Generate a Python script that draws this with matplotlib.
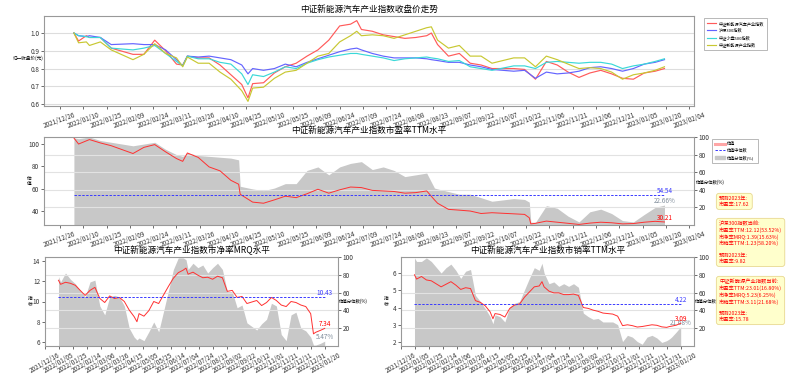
import matplotlib
matplotlib.use('Agg')
import matplotlib.pyplot as plt
import matplotlib.dates as mdates
import matplotlib.ticker as mticker
import pandas as pd

plt.rcParams['font.family'] = ['Noto Sans CJK SC', 'DejaVu Sans']
plt.rcParams['axes.unicode_minus'] = False

# ---------------- data ----------------
price_dates = ['2022-01-04', '2022-01-07', '2022-01-12', '2022-01-14', '2022-01-21', '2022-01-28',
               '2022-02-11', '2022-02-18', '2022-02-25', '2022-03-04', '2022-03-11', '2022-03-15',
               '2022-03-18', '2022-03-25', '2022-04-01', '2022-04-08', '2022-04-15', '2022-04-22',
               '2022-04-26', '2022-04-29', '2022-05-06', '2022-05-13', '2022-05-20', '2022-05-27',
               '2022-06-03', '2022-06-10', '2022-06-17', '2022-06-24', '2022-07-01', '2022-07-05',
               '2022-07-08', '2022-07-15', '2022-07-22', '2022-07-29', '2022-08-05', '2022-08-12',
               '2022-08-19', '2022-08-22', '2022-08-26', '2022-09-02', '2022-09-09', '2022-09-16',
               '2022-09-23', '2022-09-30', '2022-10-14', '2022-10-21', '2022-10-28', '2022-11-04',
               '2022-11-11', '2022-11-18', '2022-11-25', '2022-12-02', '2022-12-09', '2022-12-16',
               '2022-12-23', '2022-12-30', '2023-01-06', '2023-01-13', '2023-01-19']
nev_index = [1.00, 0.955, 0.985, 0.975, 0.975, 0.915, 0.88, 0.88, 0.96, 0.90, 0.825, 0.82,
             0.87, 0.86, 0.86, 0.82, 0.765, 0.71, 0.635, 0.715, 0.72, 0.775, 0.81, 0.83,
             0.87, 0.905, 0.96, 1.04, 1.05, 1.07, 1.02, 1.01, 0.99, 0.98, 0.97, 0.975,
             0.985, 1.00, 0.935, 0.87, 0.885, 0.83, 0.82, 0.80, 0.80, 0.795, 0.74, 0.84,
             0.82, 0.78, 0.75, 0.775, 0.79, 0.77, 0.745, 0.74, 0.775, 0.785, 0.80]
hs300_index = [1.00, 0.985, 0.98, 0.985, 0.975, 0.935, 0.94, 0.935, 0.935, 0.905, 0.85, 0.815,
               0.87, 0.865, 0.87, 0.86, 0.85, 0.82, 0.77, 0.80, 0.79, 0.80, 0.825, 0.81,
               0.835, 0.855, 0.875, 0.895, 0.91, 0.915, 0.905, 0.885, 0.87, 0.86, 0.86, 0.86,
               0.855, 0.85, 0.845, 0.835, 0.835, 0.82, 0.81, 0.795, 0.785, 0.79, 0.745, 0.78,
               0.77, 0.775, 0.785, 0.805, 0.81, 0.80, 0.785, 0.80, 0.825, 0.835, 0.85]
csi500_index = [1.00, 0.985, 0.98, 0.975, 0.975, 0.915, 0.905, 0.915, 0.93, 0.885, 0.84, 0.815,
                0.87, 0.855, 0.855, 0.835, 0.825, 0.77, 0.71, 0.765, 0.755, 0.78, 0.81, 0.80,
                0.83, 0.85, 0.865, 0.875, 0.885, 0.885, 0.88, 0.87, 0.86, 0.845, 0.855, 0.86,
                0.865, 0.86, 0.855, 0.84, 0.845, 0.81, 0.80, 0.79, 0.815, 0.815, 0.80, 0.835,
                0.84, 0.835, 0.83, 0.835, 0.835, 0.825, 0.80, 0.815, 0.825, 0.84, 0.855]
ne_index = [1.00, 0.945, 0.95, 0.93, 0.95, 0.905, 0.85, 0.88, 0.94, 0.885, 0.86, 0.81,
            0.865, 0.83, 0.83, 0.78, 0.74, 0.675, 0.615, 0.69, 0.695, 0.745, 0.78, 0.79,
            0.83, 0.87, 0.885, 0.95, 0.985, 1.01, 0.985, 0.99, 0.985, 0.97, 0.99, 1.01,
            1.03, 1.035, 0.96, 0.915, 0.93, 0.87, 0.87, 0.83, 0.86, 0.86, 0.81, 0.87,
            0.85, 0.825, 0.80, 0.805, 0.80, 0.78, 0.74, 0.765, 0.775, 0.79, 0.81]
price_labels = ['中证新能源汽车产业指数', '沪深300指数', '中证小盘500指数', '中证新能源产业指数']

pe_dates = ['2022-01-04', '2022-01-07', '2022-01-14', '2022-01-21', '2022-01-28', '2022-02-11',
            '2022-02-18', '2022-02-25', '2022-03-04', '2022-03-11', '2022-03-15', '2022-03-18',
            '2022-03-25', '2022-04-01', '2022-04-08', '2022-04-15', '2022-04-20', '2022-04-21',
            '2022-04-29', '2022-05-06', '2022-05-13', '2022-05-20', '2022-05-27', '2022-06-03',
            '2022-06-10', '2022-06-17', '2022-06-24', '2022-07-01', '2022-07-08', '2022-07-15',
            '2022-07-22', '2022-07-29', '2022-08-05', '2022-08-12', '2022-08-19', '2022-08-24',
            '2022-08-26', '2022-09-02', '2022-09-09', '2022-09-16', '2022-09-23', '2022-09-30',
            '2022-10-14', '2022-10-21', '2022-10-24', '2022-10-25', '2022-10-28', '2022-11-04',
            '2022-11-11', '2022-11-18', '2022-11-25', '2022-12-02', '2022-12-09', '2022-12-16',
            '2022-12-23', '2022-12-30', '2023-01-06', '2023-01-13', '2023-01-19']
pe_values = [105.4, 100, 104, 101, 98.5, 91.5, 97, 99.5, 93, 87, 84.5, 92,
             88, 79.5, 76, 67.5, 64, 55, 48, 47, 50, 53.3, 52, 55.5,
             59.5, 56, 59, 61.5, 61, 58.5, 58, 57.5, 56, 56.5, 58, 50,
             47, 41.5, 40.8, 40, 37.8, 38.5, 37.5, 37, 34, 28.5, 29, 31,
             30, 29, 28, 29.2, 30, 29.5, 28.5, 28.8, 30, 30.8, 30.21]
pe_pct = [99, 98, 100, 96, 94, 90, 92, 94, 86, 80, 78, 82,
          79, 78, 77, 76, 74, 44, 41, 39, 42, 47, 47, 62,
          66, 57, 66, 70, 72, 63, 66, 62, 55, 57, 59, 42,
          41, 38, 35, 35, 31, 27, 30, 29, 26, 3.3, 3, 22,
          19, 10, 3.5, 15, 18, 13, 5, 3.5, 12, 20, 22.66]
pe_median = 54.54

val_dates = ['2022-01-04', '2022-01-07', '2022-01-14', '2022-01-21', '2022-01-28', '2022-02-11',
             '2022-02-18', '2022-02-25', '2022-03-04', '2022-03-11', '2022-03-18', '2022-03-25',
             '2022-04-01', '2022-04-08', '2022-04-15', '2022-04-22', '2022-04-26', '2022-04-29',
             '2022-05-06', '2022-05-13', '2022-05-20', '2022-05-27', '2022-06-03', '2022-06-10',
             '2022-06-17', '2022-06-24', '2022-07-01', '2022-07-05', '2022-07-08', '2022-07-15',
             '2022-07-22', '2022-07-29', '2022-08-05', '2022-08-12', '2022-08-19', '2022-08-26',
             '2022-09-02', '2022-09-09', '2022-09-16', '2022-09-23', '2022-09-30', '2022-10-14',
             '2022-10-21', '2022-10-28', '2022-11-04', '2022-11-11', '2022-11-18', '2022-11-25',
             '2022-12-02', '2022-12-09', '2022-12-16', '2022-12-23', '2022-12-30', '2023-01-03',
             '2023-01-06', '2023-01-13', '2023-01-19']
pb_values = [12.1, 11.7, 11.9, 11.8, 11.6, 10.6, 11.1, 11.4, 10.3, 9.9, 10.55, 10.3,
             10.4, 10.0, 9.15, 8.5, 8.0, 8.8, 8.55, 9.1, 10.0, 9.8, 10.65, 11.5,
             12.3, 12.85, 13.1, 13.3, 12.7, 12.9, 12.6, 12.35, 12.4, 12.2, 12.5, 12.35,
             11.0, 11.1, 10.4, 10.5, 9.8, 10.1, 9.6, 9.9, 10.4, 10.1, 9.65, 9.5,
             10.0, 9.9, 9.65, 9.5, 8.8, 6.8, 6.95, 7.15, 7.34]
pb_pct = [78, 72, 82, 75, 70, 55, 72, 74, 45, 35, 55, 57,
          55, 45, 20, 10, 6.8, 9, 6, 16, 27, 16, 39, 62,
          86, 99, 99, 97, 86, 93, 88, 91, 82, 88, 93, 86,
          61, 61, 43, 46, 26, 18, 25, 30, 48, 45, 13, 6,
          35, 38, 20, 17, 10, 1, 1, 3, 5.47]
pb_median = 10.43
ps_values = [5.9, 5.65, 5.8, 5.6, 5.55, 5.2, 5.35, 5.5, 5.3, 5.05, 5.15, 5.1,
             4.4, 4.3, 4.1, 3.75, 3.35, 3.65, 3.6, 3.45, 3.95, 4.15, 4.2, 4.6,
             4.9, 5.2, 5.25, 5.5, 5.2, 4.95, 4.85, 4.85, 4.75, 4.75, 4.78, 4.7,
             4.0, 3.95, 3.85, 3.78, 3.68, 3.62, 3.5, 2.95, 3.0, 2.95, 2.87, 2.9,
             2.95, 3.0, 2.97, 2.88, 2.85, 2.9, 2.92, 2.98, 3.09]
ps_pct = [99, 95, 95, 99, 95, 82, 88, 92, 85, 76, 84, 86,
          57, 50, 42, 33, 25, 35, 33, 27, 44, 48, 50, 63,
          76, 88, 85, 93, 82, 70, 72, 67, 70, 67, 70, 66,
          37, 33, 30, 31, 27, 27, 24, 5, 12, 10, 5, 2,
          10, 12, 9, 4, 6, 8, 10, 16, 21.68]
ps_median = 4.22

box1_text = '预测2023年:\n市盈率:17.62'
box2_text = ('沪深300指数当前:\n市盈率TTM:12.12(53.52%)\n市净率MRQ:1.39(15.63%)\n'
             '市销率TTM:1.23(58.20%)\n\n预测2023年:\n市盈率:9.82')
box3_text = ('中证新能源产业指数当前:\n市盈率TTM:23.01(16.80%)\n市净率MRQ:5.23(6.25%)\n'
             '市销率TTM:3.11(21.68%)\n\n预测2023年:\n市盈率:15.78')

# ---------------- figure ----------------
W, H = 786, 376
fig = plt.figure(figsize=(W / 100, H / 100), dpi=100)


def rect(l, r, t, b):
    return [l / W, 1 - b / H, (r - l) / W, (b - t) / H]


SPINE = '#999999'
TICKC = '#333333'
FS = 4.6
MEDIAN_C = '#3a3aff'
xlim = (pd.Timestamp('2021-12-15 18:00'), pd.Timestamp('2023-02-07'))


def style(ax, ticks, rot):
    for s in ax.spines.values():
        s.set_color(SPINE)
        s.set_linewidth(0.8)
    ax.tick_params(labelsize=FS, length=2, width=0.5, colors=TICKC, pad=1.5)
    ax.set_xticks(ticks)
    ax.xaxis.set_major_formatter(mdates.DateFormatter('%Y/%m/%d'))
    for lab in ax.get_xticklabels():
        lab.set_rotation(rot)
        lab.set_ha('center')
    ax.set_xlim(*xlim)


ticks15 = pd.date_range('2021-12-26', '2023-02-04', freq='15D')
ticks20 = pd.date_range('2021-12-16', '2023-01-20', freq='20D')

# ---- top: price ----
pdates = pd.to_datetime(price_dates)
ax1 = fig.add_axes(rect(44, 694, 16, 106))
cols = ['#ff5a5a', '#6464ff', '#3ad8d8', '#c8c832']
for series, lab, c in zip([nev_index, hs300_index, csi500_index, ne_index], price_labels, cols):
    ax1.plot(pdates, series, color=c, lw=0.85, label=lab)
ax1.set_ylim(0.589, 1.096)
ax1.set_yticks([0.6, 0.7, 0.8, 0.9, 1.0])
ax1.yaxis.set_major_formatter(mticker.FormatStrFormatter('%.1f'))
ax1.grid(axis='y', color='#dddddd', lw=0.8)
ax1.set_axisbelow(True)
style(ax1, ticks15, 20)
ax1.set_title('中证新能源汽车产业指数收盘价走势', fontsize=6.2, pad=3)
fig.text(13 / W, 1 - 58 / H, '归一收盘价(元)', fontsize=3.3, va='center', ha='left')
leg = ax1.legend(loc='upper left', bbox_to_anchor=(1.012, 1.0), fontsize=3.0, frameon=True,
                 handlelength=2.3, borderpad=0.7, labelspacing=0.6, handletextpad=0.6,
                 fancybox=False)
leg.get_frame().set_edgecolor('#999999')
leg.get_frame().set_linewidth(0.6)

# ---- valuation charts ----


def val_chart(l, r, t, b, dates, values, pct, median, title, ylab, ylim, yticks, ticks, rot,
              pct_text, lab_y, legend=False):
    d = pd.to_datetime(dates)
    ax = fig.add_axes(rect(l, r, t, b))
    ax2 = ax.twinx()
    ax2.fill_between(d, 0, pct, color='#c8c8c8', lw=0)
    ax2.set_ylim(0, 100)
    ax2.set_yticks([20, 40, 60, 80, 100])
    ax2.grid(axis='y', color='#e2e2e2', lw=0.8)
    ax.set_zorder(ax2.get_zorder() + 1)
    ax.patch.set_visible(False)
    ax.plot(d, values, color='#ff3030', lw=0.7)
    ln2, = ax.plot([d[0], d[-1]], [median, median], color=MEDIAN_C, lw=0.7, ls=(0, (2.5, 1.5)))
    ax.set_ylim(*ylim)
    ax.set_yticks(yticks)
    style(ax, ticks, rot)
    for s in ax2.spines.values():
        s.set_visible(False)
    ax2.tick_params(labelsize=FS, length=2, width=0.5, colors=TICKC, pad=1.5)
    ax.set_title(title, fontsize=6.2, pad=3)
    ax.text(d[-1], median, f'{median:.2f}', color=MEDIAN_C, fontsize=4.6, ha='center',
            va='bottom')
    ax.text(d[-1], values[-1], f'{values[-1]:.2f}', color='red', fontsize=4.6, ha='center',
            va='bottom')
    ax2.text(d[-1], pct[-1], pct_text, color='#7f8c9a', fontsize=4.6, ha='center', va='bottom')
    ax.text(-15 / (r - l), 0.5, ylab, transform=ax.transAxes, fontsize=3.4, ha='center',
            va='center', linespacing=1.05)
    ax2.text(1.003, lab_y, '估值分位数(%)', transform=ax2.transAxes, fontsize=3.2, ha='left',
             va='center')
    if legend:
        patch = plt.Rectangle((0, 0), 1, 1, color='#c8c8c8')
        lg = ax.legend([plt.Line2D([], [], color='red', lw=2.2, alpha=0.35), ln2, patch],
                       ['估值', '估值中位数', '估值分位数(%)'], loc='upper left',
                       bbox_to_anchor=(1.025, 1.0), fontsize=3.0, handlelength=2.3,
                       borderpad=0.7, labelspacing=0.6, handletextpad=0.6, fancybox=False)
        lg.get_frame().set_edgecolor('#999999')
        lg.get_frame().set_linewidth(0.6)
    return ax


val_chart(44, 694, 137, 225, pe_dates, pe_values, pe_pct, pe_median,
          '中证新能源汽车产业指数市盈率TTM水平', '估\n值', (27.5, 106.3), [40, 60, 80, 100],
          ticks15, 20, '22.66%', 0.49, legend=True)
val_chart(45, 338, 257, 346, val_dates, pb_values, pb_pct, pb_median,
          '中证新能源汽车产业指数市净率MRQ水平', '指\n标', (5.6, 14.4), [6, 8, 10, 12, 14],
          ticks20, 30, '5.47%', 0.5)
val_chart(401, 694, 257, 346, val_dates, ps_values, ps_pct, ps_median,
          '中证新能源汽车产业指数市销率TTM水平', '指\n标', (1.77, 6.93), [2, 3, 4, 5, 6],
          ticks20, 30, '21.68%', 0.5)

# ---- info boxes ----
bbox = dict(boxstyle='round,pad=0.5', fc='#ffffcc', ec='#e8d890', lw=0.6)
for txt, y in [(box1_text, 196), (box2_text, 221), (box3_text, 279)]:
    fig.text(719 / W, 1 - y / H, txt, fontsize=3.8, color='red', va='top', ha='left',
             bbox=bbox, linespacing=1.2)

fig.savefig('out.png', dpi=100)
